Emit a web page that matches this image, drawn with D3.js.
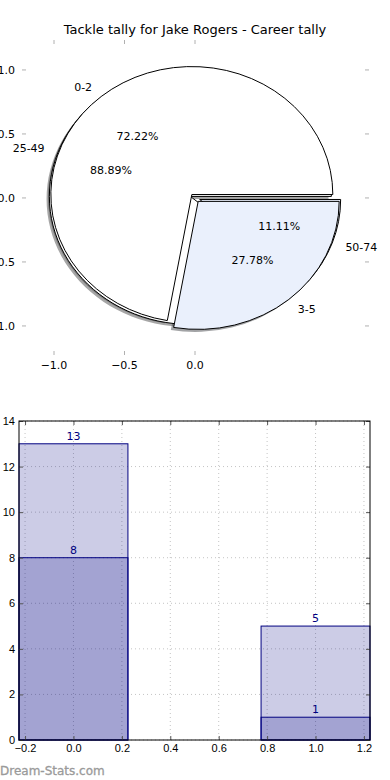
<!DOCTYPE html>
<html>
<head>
<meta charset="utf-8">
<script src="https://cdn.jsdelivr.net/npm/d3@7"></script>
<style>
  body { margin: 0; background: #fff; }
  svg { display: block; font-family: "DejaVu Sans", sans-serif; }
  .tick text { font-size: 11px; fill: #000; }
</style>
</head>
<body>
<svg id="chart" width="390" height="780"></svg>
<script>
// pie data: career tally (top) and second tally (underneath)
const pieLabels1 = ["0-2", "3-5"];
const pieValues1 = [13, 5];
const pieLabels2 = ["25-49", "50-74"];
const pieValues2 = [8, 1];
const pieColors = ["#ffffff", "#eaf0fc"];
const explode = [0.035, 0.035];

// bar data
const barPos = [0, 1];
const barBack = [13, 5];
const barFront = [8, 1];

const pieXTicks = [-1.0, -0.5, 0.0];
const pieYTicks = [1.0, 0.5, 0.0, -0.5, -1.0];
const barXTicks = [-0.2, 0.0, 0.2, 0.4, 0.6, 0.8, 1.0, 1.2];
const barYTicks = [0, 2, 4, 6, 8, 10, 12, 14];

const svg = d3.select("#chart");
const fmt = d3.format(".1f");

svg.append("text")
    .attr("x", 195).attr("y", 34)
    .attr("text-anchor", "middle")
    .style("font-size", "13px")
    .text("Tackle tally for Jake Rogers - Career tally");

// ---------- pie ----------
const px = d3.scaleLinear().domain([-1.227, 1.234]).range([22, 369]);
const py = d3.scaleLinear().domain([-1.227, 1.234]).range([355, 40]);

// matplotlib style: start at 3 o'clock, counter clockwise
const pie = d3.pie().sort(null).startAngle(Math.PI / 2).endAngle(Math.PI / 2 - 2 * Math.PI);
const arc = d3.arc().innerRadius(0).outerRadius(1);

const sx = px(1) - px(0), sy = py(0) - py(1);
const pieG = svg.append("g")
    .attr("transform", `translate(${px(0)},${py(0)}) scale(${sx},${sy})`);

function slices(values, labels) {
    const total = d3.sum(values);
    return pie(values).map((d, i) => {
        const mid = (d.startAngle + d.endAngle) / 2;
        const e = explode[i];
        return {
            arc: d, label: labels[i], pct: d.value / total * 100, color: pieColors[i],
            dx: e * Math.sin(mid), dy: -e * Math.cos(mid), mid, e
        };
    });
}
const s2 = slices(pieValues2, pieLabels2);
const s1 = slices(pieValues1, pieLabels1);
const all = [...s2, ...s1];

// shadows first
pieG.selectAll("path.shadow")
    .data(all)
    .join("path")
    .attr("class", "shadow")
    .attr("transform", d => `translate(${d.dx - 0.02},${d.dy + 0.02})`)
    .attr("d", d => arc(d.arc))
    .attr("fill", d => {
        const c = d3.rgb(d.color);
        return d3.rgb(c.r * 0.3, c.g * 0.3, c.b * 0.3);
    })
    .attr("fill-opacity", 0.5);

pieG.selectAll("path.wedge")
    .data(all)
    .join("path")
    .attr("class", "wedge")
    .attr("transform", d => `translate(${d.dx},${d.dy})`)
    .attr("d", d => arc(d.arc))
    .attr("fill", d => d.color)
    .attr("stroke", "#000")
    .attr("stroke-width", 1)
    .attr("vector-effect", "non-scaling-stroke");

// labels (convert d3 angle back to math angle)
all.forEach(d => {
    const c = Math.sin(d.mid), s = Math.cos(d.mid);
    const lx = d.e * c + 1.1 * c, ly = d.e * s + 1.1 * s;
    svg.append("text")
        .attr("x", px(lx)).attr("y", py(ly))
        .attr("dy", "0.35em")
        .attr("text-anchor", lx < 0 ? "end" : "start")
        .style("font-size", "11px")
        .text(d.label);
    svg.append("text")
        .attr("x", px(d.e * c + 0.6 * c)).attr("y", py(d.e * s + 0.6 * s))
        .attr("dy", "0.35em")
        .attr("text-anchor", "middle")
        .style("font-size", "11px")
        .text(d3.format(".2f")(d.pct) + "%");
});

// pie ticks (frame hidden)
const tickCol = "#b0b0b0";
pieXTicks.forEach(t => {
    [[40, 44], [355, 351]].forEach(([a, b]) =>
        svg.append("line").attr("x1", px(t)).attr("x2", px(t)).attr("y1", a).attr("y2", b)
            .attr("stroke", tickCol));
    svg.append("text").attr("x", px(t)).attr("y", 369)
        .attr("text-anchor", "middle").style("font-size", "11px")
        .text(fmt(t).replace("-", "\u2212"));
});
pieYTicks.forEach(t => {
    [[22, 26], [369, 365]].forEach(([a, b]) =>
        svg.append("line").attr("y1", py(t)).attr("y2", py(t)).attr("x1", a).attr("x2", b)
            .attr("stroke", tickCol));
    svg.append("text").attr("x", 15).attr("y", py(t)).attr("dy", "0.35em")
        .attr("text-anchor", "end").style("font-size", "11px")
        .text(fmt(t).replace("-", "\u2212"));
});

// ---------- bars ----------
const bx = d3.scaleLinear().domain([-0.225, 1.225]).range([19, 370]);
const by = d3.scaleLinear().domain([0, 14]).range([740, 421]);
const barW = 0.45;

const grid = svg.append("g").attr("stroke", "#c4c4c4").attr("stroke-dasharray", "1,3");
barXTicks.forEach(t => grid.append("line").attr("x1", bx(t)).attr("x2", bx(t)).attr("y1", 421).attr("y2", 740));
barYTicks.forEach(t => grid.append("line").attr("y1", by(t)).attr("y2", by(t)).attr("x1", 19).attr("x2", 370));

[barBack, barFront].forEach(series => {
    svg.append("g").selectAll("rect")
        .data(series)
        .join("rect")
        .attr("x", (d, i) => bx(barPos[i] - barW / 2))
        .attr("width", bx(barW) - bx(0))
        .attr("y", d => by(d))
        .attr("height", d => by(0) - by(d))
        .attr("fill", "navy")
        .attr("fill-opacity", 0.2)
        .attr("stroke", "navy")
        .attr("stroke-width", 1);
    svg.append("g").selectAll("text")
        .data(series)
        .join("text")
        .attr("x", (d, i) => bx(barPos[i]))
        .attr("y", d => by(d) - 4)
        .attr("text-anchor", "middle")
        .attr("fill", "navy")
        .style("font-size", "11px")
        .text(d => d);
});

svg.append("g").attr("transform", "translate(0,740)")
    .call(d3.axisBottom(bx).tickValues(barXTicks).tickSize(-4).tickPadding(4)
        .tickFormat(d => fmt(d).replace("-", "\u2212")));
svg.append("g").attr("transform", "translate(0,421)")
    .call(d3.axisTop(bx).tickValues(barXTicks).tickSize(-4).tickFormat(""));
svg.append("g").attr("transform", "translate(19,0)")
    .call(d3.axisLeft(by).tickValues(barYTicks).tickSize(-4).tickPadding(4));
svg.append("g").attr("transform", "translate(370,0)")
    .call(d3.axisRight(by).tickValues(barYTicks).tickSize(-4).tickFormat(""));
svg.selectAll(".domain").remove();
svg.selectAll(".tick line").attr("stroke", "#555");
svg.append("rect").attr("x", 19).attr("y", 421).attr("width", 351).attr("height", 319)
    .attr("fill", "none").attr("stroke", "#000");

svg.append("text").attr("x", 0).attr("y", 775)
    .attr("fill", "#9a9a9a").style("font-size", "12px")
    .style("stroke", "#9a9a9a").style("stroke-width", 0.3)
    .text("Dream-Stats.com");
</script>
</body>
</html>
